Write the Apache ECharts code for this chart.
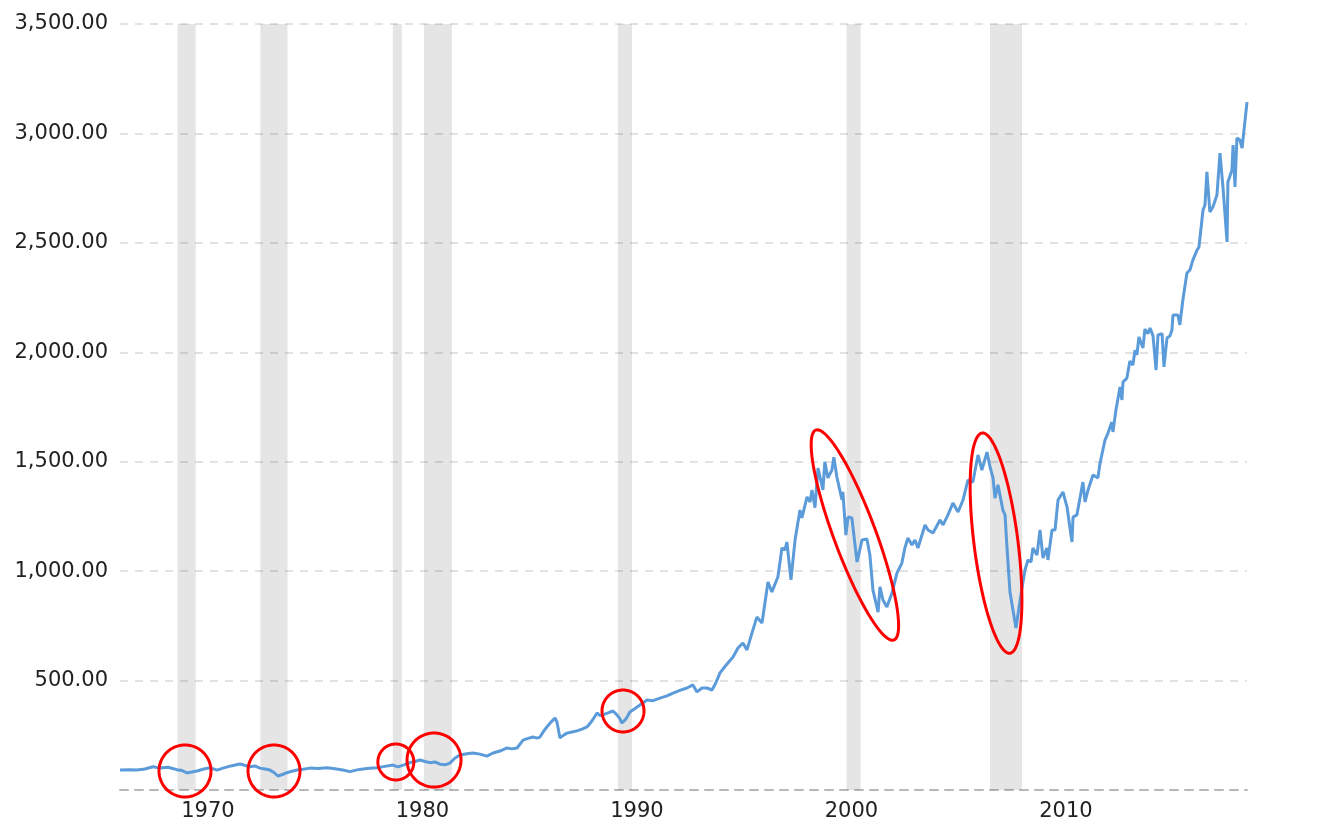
<!DOCTYPE html>
<html><head><meta charset="utf-8">
<script src="https://cdn.jsdelivr.net/npm/echarts@6.0.0/dist/echarts.min.js"></script>
<style>html,body{margin:0;padding:0;background:#fff}#c{width:1320px;height:832px}</style>
</head><body><div id="c"></div>
<script>
const years = [1965.90,1966.36,1966.69,1967.06,1967.44,1967.76,1968.14,1968.55,1968.79,1969.02,1969.25,1969.49,1969.81,1970.09,1970.42,1970.70,1971.07,1971.49,1971.96,1972.19,1972.42,1972.66,1972.89,1973.08,1973.26,1973.50,1973.68,1973.92,1974.15,1974.43,1974.76,1975.13,1975.55,1975.92,1976.29,1976.62,1976.95,1977.23,1977.55,1977.88,1978.25,1978.62,1978.86,1979.14,1979.42,1979.65,1979.88,1980.12,1980.35,1980.58,1980.82,1981.05,1981.28,1981.52,1981.75,1982.07,1982.35,1982.68,1983.01,1983.29,1983.61,1983.94,1984.17,1984.41,1984.69,1984.92,1985.15,1985.34,1985.48,1985.66,1985.80,1985.99,1986.18,1986.27,1986.41,1986.60,1986.74,1986.97,1987.20,1987.44,1987.67,1987.90,1988.14,1988.28,1988.41,1988.65,1988.88,1989.07,1989.21,1989.30,1989.49,1989.67,1989.91,1990.14,1990.47,1990.75,1991.07,1991.40,1991.68,1992.00,1992.33,1992.61,1992.80,1993.03,1993.26,1993.50,1993.68,1993.87,1994.15,1994.48,1994.71,1994.94,1995.13,1995.36,1995.59,1995.83,1996.11,1996.29,1996.57,1996.76,1996.90,1996.99,1997.18,1997.37,1997.60,1997.69,1997.93,1998.07,1998.16,1998.30,1998.44,1998.67,1998.76,1998.90,1999.09,1999.18,1999.32,1999.56,1999.60,1999.74,1999.84,2000.02,2000.26,2000.49,2000.72,2000.86,2001.00,2001.24,2001.33,2001.47,2001.65,2001.89,2002.12,2002.35,2002.49,2002.63,2002.82,2002.96,2003.10,2003.43,2003.57,2003.80,2004.13,2004.27,2004.50,2004.73,2004.97,2005.20,2005.43,2005.66,2005.90,2006.08,2006.32,2006.46,2006.60,2006.69,2006.83,2006.92,2007.06,2007.16,2007.25,2007.39,2007.48,2007.67,2007.81,2007.95,2008.09,2008.23,2008.37,2008.46,2008.65,2008.79,2008.93,2009.11,2009.16,2009.35,2009.49,2009.63,2009.86,2010.05,2010.28,2010.33,2010.51,2010.79,2010.89,2011.03,2011.26,2011.49,2011.59,2011.82,2011.96,2012.14,2012.19,2012.33,2012.52,2012.61,2012.66,2012.84,2012.98,2013.12,2013.22,2013.31,2013.40,2013.59,2013.68,2013.82,2013.92,2014.06,2014.20,2014.29,2014.48,2014.57,2014.71,2014.85,2014.94,2014.99,2015.22,2015.31,2015.45,2015.64,2015.78,2015.92,2016.11,2016.20,2016.39,2016.48,2016.57,2016.71,2016.85,2017.04,2017.18,2017.27,2017.32,2017.41,2017.51,2017.55,2017.74,2017.79,2017.88,2017.97,2018.11,2018.21,2018.44];
const values = [91,93,91,96,106,100,104,93,89,78,82,87,96,102,91,100,110,119,106,110,100,96,91,80,64,72,79,86,91,95,100,98,102,97,91,84,92,96,99,102,108,114,106,115,125,130,137,130,125,128,118,115,123,146,160,166,169,164,155,169,178,192,188,192,228,236,242,237,242,270,288,310,329,311,238,252,260,265,270,278,288,315,352,340,343,352,361,343,325,306,325,356,372,388,411,408,420,430,443,455,466,480,448,466,466,457,490,535,570,608,649,672,640,717,790,763,950,905,973,1106,1097,1133,960,1142,1279,1243,1339,1316,1371,1290,1471,1371,1499,1426,1462,1521,1430,1325,1362,1165,1247,1243,1042,1142,1147,1074,914,813,928,868,836,900,991,1037,1106,1151,1119,1142,1106,1211,1188,1174,1234,1211,1257,1311,1270,1325,1416,1407,1531,1462,1544,1476,1426,1334,1394,1403,1279,1257,1110,905,900,740,832,923,1005,1051,1042,1106,1074,1188,1060,1106,1051,1188,1188,1325,1362,1293,1133,1247,1257,1407,1316,1371,1439,1426,1494,1599,1631,1681,1636,1736,1841,1782,1864,1882,1960,1942,2010,1988,2070,2020,2106,2085,2111,2075,1919,2079,2085,1933,2065,2075,2102,2170,2170,2125,2239,2362,2376,2422,2467,2481,2650,2673,2824,2641,2664,2719,2910,2915,2755,2764,2504,2778,2833,2947,2755,2979,2970,2933,3143];
const xTickLabels = [1970, 1980, 1990, 2000, 2010];
const recessionStarts = [1968.58, 1972.44, 1978.62, 1980.07, 1989.11, 1999.77, 2006.46];
const recessionEnds   = [1969.43, 1973.71, 1979.04, 1981.37, 1989.77, 2000.43, 2007.95];
const markYears  = [1968.93, 1973.08, 1978.76, 1980.54, 1989.35, 2000.16, 2006.74];
const markValues = [87, 87, 128, 137, 361, 1165, 1128];
// annotation outline shapes in pixels (semi-axes and tilt in degrees)
const markShapes = [
  {a:26, b:26, rot:0},
  {a:26, b:26, rot:0},
  {a:18, b:18, rot:0},
  {a:27, b:27, rot:0},
  {a:21, b:21, rot:0},
  {a:112, b:21, rot:20.4},
  {a:111, b:22, rot:7.2}
];

const chart = echarts.init(document.getElementById('c'), null, {renderer:'canvas'});
const FONT = '"DejaVu Sans", Verdana, sans-serif';
chart.setOption({
  animation: false,
  backgroundColor: '#fff',
  grid: {left:120, right:73, top:24, bottom:42, containLabel:false},
  xAxis: {
    type:'value', min:1965.9, max:2018.44,
    axisLine:{show:true, lineStyle:{color:'#b8b8b8', width:2, type:[8,7]}},
    axisTick:{show:false},
    splitLine:{show:false},
    axisLabel:{customValues:xTickLabels, formatter:v=>String(Math.round(v)), fontSize:21, color:'#222', fontFamily:FONT, margin:11}
  },
  yAxis: {
    type:'value', min:0, max:3500, interval:500,
    axisLine:{show:false}, axisTick:{show:false},
    splitLine:{show:true, lineStyle:{color:'#e2e2e2', width:2, type:[8,7]}},
    axisLabel:{formatter:v=> v===0 ? '' : v.toLocaleString('en-US',{minimumFractionDigits:2, maximumFractionDigits:2}), fontSize:21, color:'#222', fontFamily:FONT, margin:12}
  },
  series: [
    {
      type:'line', z:3, showSymbol:false, silent:true,
      data: years.map((y,i)=>[y, values[i]]),
      lineStyle:{color:'#5b9bd9', width:3},
      markArea:{silent:true, itemStyle:{color:'rgba(0,0,0,0.1)'},
        data: recessionStarts.map((s,i)=>[{xAxis:s},{xAxis:recessionEnds[i]}])}
    },
    {
      type:'custom', coordinateSystem:'cartesian2d', z:5, silent:true, clip:false,
      data: markYears.map((y,i)=>[y, markValues[i]]),
      encode:{x:0, y:1},
      renderItem(params, api){
        const c = api.coord([api.value(0), api.value(1)]);
        const s = markShapes[params.dataIndex];
        const th = s.rot*Math.PI/180;
        const ux=Math.sin(th), uy=Math.cos(th), vx=Math.cos(th), vy=-Math.sin(th);
        const pts=[];
        for(let k=0;k<96;k++){
          const t=k/96*2*Math.PI;
          pts.push([c[0]+s.a*Math.cos(t)*ux+s.b*Math.sin(t)*vx, c[1]+s.a*Math.cos(t)*uy+s.b*Math.sin(t)*vy]);
        }
        return {type:'polygon', shape:{points:pts}, style:{fill:null, stroke:'#f00', lineWidth:3}};
      }
    }
  ]
});
</script></body></html>
